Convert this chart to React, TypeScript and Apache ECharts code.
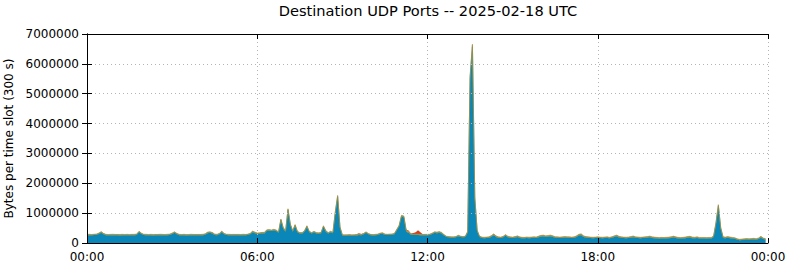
import React, { useEffect, useRef } from "react";
import * as echarts from "echarts";

// 5-minute slots (288 per day), values in thousands of bytes
const tickLabels = ["00:00", "06:00", "12:00", "18:00", "00:00"];
const yTicks = [0, 1000000, 2000000, 3000000, 4000000, 5000000, 6000000, 7000000];
const pad = (n: number) => (n < 10 ? "0" + n : "" + n);
const slotLabels: string[] = [];
for (let i = 0; i <= 288; i++) slotLabels.push(pad(Math.floor((i * 5) / 60) % 24) + ":" + pad((i * 5) % 60));

const blueK = [
  260,262,258,265,270,300,340,290,262,258,260,262,
  258,260,255,262,258,260,256,262,260,270,360,300,
  265,260,258,262,255,260,258,262,260,258,262,270,
  300,340,290,262,258,260,255,258,262,258,260,256,
  258,262,280,330,340,320,270,262,290,360,290,265,
  260,258,262,256,260,258,262,258,265,290,360,330,
  300,310,320,320,400,410,400,420,400,340,760,480,
  380,1100,600,380,580,360,320,320,380,540,360,320,
  360,320,310,330,540,380,320,360,330,1000,1540,500,
  250,245,248,250,245,250,255,270,260,290,340,290,
  260,255,260,270,300,310,270,265,270,275,290,420,
  550,880,860,380,340,280,270,270,270,260,260,260,
  260,265,300,340,330,345,320,250,200,190,180,180,
  190,230,200,190,200,350,5500,6570,1500,400,200,170,
  160,165,170,210,260,200,170,165,190,240,190,170,
  165,180,200,170,160,155,165,160,165,170,165,190,
  210,220,200,210,220,200,175,170,165,170,180,175,
  170,165,170,200,250,260,200,180,170,165,160,165,
  170,165,160,165,170,160,175,200,220,185,170,165,
  160,165,175,195,170,165,160,165,170,175,190,170,
  160,150,145,150,148,152,155,165,185,165,150,148,
  150,160,175,180,160,155,165,150,148,150,145,150,
  150,200,640,1230,480,170,160,175,160,150,140,110,
  95,100,110,115,110,115,120,110,130,180,130,110,
];

const greenK = [
  15,16,14,15,17,18,20,16,15,14,15,16,
  15,14,16,15,14,16,15,14,16,15,18,16,
  15,16,14,15,16,14,15,16,15,14,16,15,
  17,18,16,15,14,16,15,14,16,15,14,16,
  15,16,15,17,18,17,15,16,17,18,16,15,
  16,15,14,16,15,14,16,15,16,17,20,18,
  18,17,18,19,20,20,19,20,19,18,22,20,
  19,25,20,18,20,17,16,17,18,20,17,16,
  17,16,15,16,20,17,16,17,16,25,30,20,
  15,14,15,16,14,15,16,15,14,16,18,16,
  15,14,16,15,17,18,16,15,16,15,17,20,
  22,25,24,18,17,15,14,15,16,15,14,15,
  15,16,17,18,18,19,17,15,14,13,13,14,
  14,16,15,14,15,20,45,50,30,18,15,14,
  14,15,16,18,20,17,15,14,16,18,16,15,
  15,16,17,15,14,15,16,15,16,17,16,18,
  20,20,18,19,20,19,16,15,14,15,16,15,
  15,14,15,17,20,20,17,16,15,14,15,14,
  15,14,15,16,15,14,16,18,20,17,15,14,
  15,16,17,18,16,15,14,15,16,17,18,16,
  16,17,16,17,16,17,18,19,20,18,17,16,
  17,18,19,20,18,17,18,16,17,16,15,16,
  16,18,22,25,20,17,16,18,17,16,15,14,
  13,14,14,15,14,15,16,15,17,20,16,15,
];

const orangeK = [
  14,15,13,14,15,16,18,15,14,13,14,15,
  14,13,15,14,13,15,14,13,15,14,16,15,
  14,15,13,14,15,13,14,15,14,13,15,14,
  16,17,15,14,13,15,14,13,15,14,13,15,
  14,15,14,16,17,16,14,15,16,17,15,14,
  15,14,13,15,14,13,15,14,15,16,18,16,
  16,15,16,17,18,18,17,18,17,16,20,18,
  17,22,18,16,18,15,14,15,16,18,15,14,
  15,14,13,14,18,15,14,15,14,22,26,18,
  13,12,13,14,12,13,14,15,14,15,16,14,
  13,12,14,13,15,16,14,13,14,13,15,18,
  20,22,21,30,25,14,13,14,15,14,13,14,
  14,15,16,17,17,18,16,14,13,12,12,13,
  13,15,14,13,14,18,35,40,25,16,14,13,
  18,19,20,22,24,21,19,18,20,22,20,19,
  19,20,21,19,18,19,20,19,20,21,20,22,
  24,24,22,23,24,23,20,19,18,19,20,19,
  19,18,19,21,24,24,21,20,19,18,19,18,
  19,18,19,20,19,18,20,22,24,21,19,18,
  19,20,21,22,20,19,18,19,20,21,22,20,
  20,21,20,21,20,21,22,23,24,22,21,20,
  21,22,23,24,22,21,22,20,21,20,19,20,
  20,22,26,30,24,21,20,22,21,20,19,18,
  17,18,18,19,18,19,20,19,21,24,20,19,
];

const redK = [
  2,2,2,2,2,3,3,2,2,2,2,2,
  2,2,2,2,2,2,2,2,2,2,3,2,
  2,2,2,2,2,2,2,2,2,2,2,2,
  2,3,2,2,2,2,2,2,2,2,2,2,
  2,2,2,3,3,3,2,2,3,3,2,2,
  2,2,2,2,2,2,2,2,2,2,3,3,
  3,3,3,3,3,3,3,3,3,3,4,3,
  3,4,3,3,3,3,3,3,3,3,3,3,
  3,3,3,3,3,3,3,3,3,4,4,3,
  2,2,2,3,2,2,5,25,15,5,3,2,
  2,2,2,2,3,3,2,2,2,2,3,3,
  3,3,3,20,35,10,40,60,130,70,10,3,
  2,2,2,2,2,2,2,2,2,2,2,2,
  2,2,2,2,2,2,3,3,2,2,2,2,
  2,2,2,2,2,2,2,2,2,2,2,2,
  2,2,2,2,2,2,2,2,2,2,2,2,
  2,2,2,2,2,2,2,2,2,2,2,2,
  2,2,2,2,2,2,2,2,2,2,2,2,
  2,2,2,2,2,2,2,2,2,2,2,2,
  2,2,2,2,2,2,2,2,2,2,2,2,
  2,2,2,2,2,2,2,2,2,2,2,2,
  2,2,2,2,2,2,2,2,2,2,2,2,
  2,2,2,3,2,2,2,2,2,2,2,2,
  2,2,2,2,2,2,2,2,2,2,2,2,
];

const toBytes = (arr: number[]) => arr.map((v) => v * 1000);

const FONT = "DejaVu Sans";

export default function App() {
  const ref = useRef<HTMLDivElement>(null);
  useEffect(() => {
    if (!ref.current) return;
    const chart = echarts.init(ref.current, null, { renderer: "svg" });
    const mkSeries = (name: string, data: number[], color: string, lineColor: string, lw: number) => ({
      name,
      type: "line",
      stack: "total",
      xAxisIndex: 2,
      yAxisIndex: 0,
      data: toBytes(data),
      symbol: "none",
      showSymbol: false,
      lineStyle: { width: lw, color: lineColor },
      itemStyle: { color },
      areaStyle: { color, opacity: 1 },
      z: 2,
    });
    const splitLine = { show: true, lineStyle: { color: "#b4b4b4", width: 1, type: [1, 3] } };
    chart.setOption({
      animation: false,
      backgroundColor: "#ffffff",
      textStyle: { fontFamily: FONT },
      title: {
        text: "Destination UDP Ports -- 2025-02-18 UTC",
        left: 423,
        textAlign: "center",
        top: -2,
        textStyle: { fontFamily: FONT, fontSize: 14.6, fontWeight: "normal", color: "#000" },
      },
      grid: { left: 87, right: 22, top: 34, bottom: 24, containLabel: false, outerBoundsMode: "none" },
      xAxis: [
        {
          type: "value",
          min: 0,
          max: 288,
          interval: 72,
          axisLine: { show: true, onZero: false, lineStyle: { color: "#000", width: 1 } },
          axisTick: { show: true, inside: true, length: 5, lineStyle: { color: "#000" } },
          axisLabel: {
            color: "#000",
            fontFamily: FONT,
            fontSize: 12,
            margin: 8,
            formatter: (v: number) => tickLabels[Math.round(v / 72)] ?? "",
          },
          splitLine,
          z: 5,
        },
        {
          type: "value",
          position: "top",
          min: 0,
          max: 288,
          interval: 72,
          axisLine: { show: true, onZero: false, lineStyle: { color: "#000", width: 1 } },
          axisTick: { show: true, inside: true, length: 5, lineStyle: { color: "#000" } },
          axisLabel: { show: false },
          splitLine: { show: false },
          z: 5,
        },
        {
          type: "category",
          show: false,
          position: "bottom",
          boundaryGap: false,
          data: slotLabels,
        },
      ],
      yAxis: [
        {
          type: "value",
          min: yTicks[0],
          max: yTicks[yTicks.length - 1],
          interval: 1000000,
          name: "Bytes per time slot (300 s)",
          nameLocation: "middle",
          nameGap: 69,
          nameTextStyle: { fontFamily: FONT, fontSize: 12, color: "#000" },
          axisLine: { show: true, lineStyle: { color: "#000", width: 1 } },
          axisTick: { show: true, inside: true, length: 5, lineStyle: { color: "#000" } },
          axisLabel: {
            color: "#000",
            fontFamily: FONT,
            fontSize: 12,
            margin: 8,
            formatter: (v: number) => String(Math.round(v)),
          },
          splitLine,
          z: 5,
        },
        {
          type: "value",
          position: "right",
          min: yTicks[0],
          max: yTicks[yTicks.length - 1],
          interval: 1000000,
          axisLine: { show: true, lineStyle: { color: "#000", width: 1 } },
          axisTick: { show: true, inside: true, length: 5, lineStyle: { color: "#000" } },
          axisLabel: { show: false },
          splitLine: { show: false },
          z: 5,
        },
      ],
      series: [
        mkSeries("UDP A", blueK, "#0a86b8", "#0a86b8", 0.5),
        mkSeries("UDP B", greenK, "#7f9a3c", "#7f9a3c", 0.5),
        mkSeries("UDP C", orangeK, "#c9822e", "#a88a40", 0.6),
        mkSeries("UDP D", redK, "#d2401c", "#d2401c", 0),
      ],
    });
    return () => chart.dispose();
  }, []);
  return (
    <div
      ref={ref}
      style={{ position: "fixed", left: 0, top: 0, width: 790, height: 267, background: "#fff" }}
    />
  );
}
